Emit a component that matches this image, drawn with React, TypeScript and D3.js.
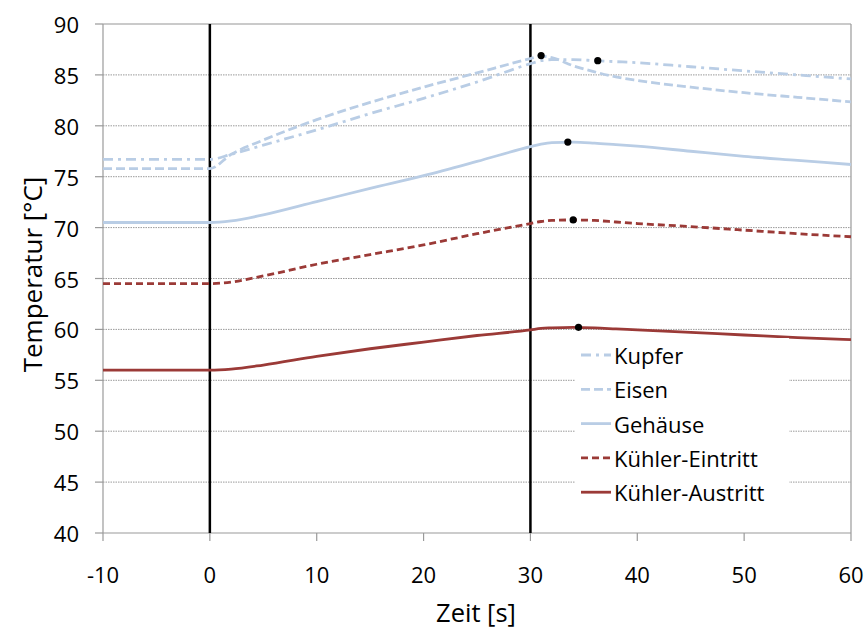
import React from "react";
import * as d3 from "d3";

const times = [-10, 0, 2, 5, 10, 15, 20, 25, 30, 31, 32, 34, 36, 38, 40, 45, 50, 55, 60];
const kupfer = [76.7, 76.7, 77.2, 78.1, 79.6, 81.2, 82.7, 84.3, 86.1, 86.4, 86.5, 86.5, 86.4, 86.3, 86.2, 85.8, 85.4, 85.0, 84.6];
const eisen = [75.8, 75.8, 77.2, 78.6, 80.6, 82.3, 83.8, 85.2, 86.6, 86.85, 86.7, 85.9, 85.3, 84.8, 84.45, 83.8, 83.25, 82.8, 82.35];
const gehaeuse = [70.5, 70.5, 70.65, 71.25, 72.55, 73.85, 75.1, 76.5, 77.95, 78.2, 78.35, 78.4, 78.3, 78.15, 78.0, 77.5, 77.0, 76.6, 76.2];
const kuehlerEin = [64.5, 64.5, 64.65, 65.25, 66.4, 67.35, 68.3, 69.4, 70.4, 70.6, 70.7, 70.75, 70.7, 70.55, 70.4, 70.1, 69.75, 69.4, 69.1];
const kuehlerAus = [56, 56, 56.1, 56.5, 57.35, 58.1, 58.75, 59.4, 59.95, 60.1, 60.15, 60.2, 60.15, 60.05, 59.95, 59.7, 59.45, 59.2, 59.0];

const seriesNames = ["Kupfer", "Eisen", "Gehäuse", "Kühler-Eintritt", "Kühler-Austritt"];
const seriesValues = [kupfer, eisen, gehaeuse, kuehlerEin, kuehlerAus];
const seriesColors = ["#b9cde5", "#b9cde5", "#b9cde5", "#9b3a37", "#9b3a37"];
const seriesDash = ["10,5,3,5", "9,4", "none", "7,4", "none"];

const markerTimes = [36.3, 31.0, 33.5, 34.0, 34.5];
const markerValues = [86.4, 86.9, 78.4, 70.75, 60.2];

const xTicks = [-10, 0, 10, 20, 30, 40, 50, 60];
const yTicks = [40, 45, 50, 55, 60, 65, 70, 75, 80, 85, 90];
const eventTimes = [0, 30];

const W = 866, H = 630;
const left = 103, right = 851, top = 24, bottom = 533;
const FONT = "'Open Sans', 'Noto Sans', sans-serif";

export default function App() {
  const x = d3.scaleLinear().domain([-10, 60]).range([left, right]);
  const y = d3.scaleLinear().domain([40, 90]).range([bottom, top]);
  const line = d3
    .line<number>()
    .x((_, i) => x(times[i]))
    .y((d) => y(d))
    .curve(d3.curveMonotoneX);

  const legendX = 581;
  const legendY0 = 355;
  const legendStep = 34.3;

  return (
    <svg
      width={W}
      height={H}
      style={{ position: "fixed", left: 0, top: 0, background: "#fff" }}
      fontFamily={FONT}
    >
      <rect x={0} y={0} width={W} height={H} fill="#fff" />
      {yTicks.slice(1, -1).map((t) => (
        <line
          key={"g" + t}
          x1={left}
          x2={right}
          y1={y(t)}
          y2={y(t)}
          stroke="#9a9a9a"
          strokeWidth={1}
          strokeDasharray="1.5,1"
        />
      ))}
      <line x1={left} x2={right} y1={top} y2={top} stroke="#b8b8b8" strokeWidth={1.5} />
      <line x1={right} x2={right} y1={top} y2={bottom} stroke="#9a9a9a" strokeWidth={1.2} />
      <line x1={left} x2={left} y1={top} y2={bottom} stroke="#9a9a9a" strokeWidth={1.2} />
      <line x1={left} x2={right} y1={bottom} y2={bottom} stroke="#9a9a9a" strokeWidth={1.2} />
      {yTicks.map((t) => (
        <g key={"y" + t}>
          <line x1={left - 8} x2={left} y1={y(t)} y2={y(t)} stroke="#9a9a9a" strokeWidth={1.2} />
          <text
            x={79}
            y={y(t)}
            textAnchor="end"
            dominantBaseline="central"
            fontSize={22}
            fill="#000"
          >
            {t}
          </text>
        </g>
      ))}
      {xTicks.map((t) => (
        <g key={"x" + t}>
          <line x1={x(t)} x2={x(t)} y1={bottom} y2={bottom + 8} stroke="#9a9a9a" strokeWidth={1.2} />
          <text x={x(t)} y={583} textAnchor="middle" fontSize={22} fill="#000">
            {t}
          </text>
        </g>
      ))}
      {eventTimes.map((t) => (
        <line key={"e" + t} x1={x(t)} x2={x(t)} y1={top} y2={bottom} stroke="#000" strokeWidth={2.5} />
      ))}
      {seriesValues.map((vals, i) => (
        <path
          key={"s" + i}
          d={line(vals) || ""}
          fill="none"
          stroke={seriesColors[i]}
          strokeWidth={2.8}
          strokeDasharray={seriesDash[i]}
        />
      ))}
      {markerTimes.map((t, i) => (
        <circle key={"m" + i} cx={x(t)} cy={y(markerValues[i])} r={3.6} fill="#000" />
      ))}
      <rect x={575} y={338} width={214} height={188} fill="#fff" />
      {seriesNames.map((n, i) => (
        <g key={"l" + i}>
          <line
            x1={legendX}
            x2={legendX + 30}
            y1={legendY0 + i * legendStep}
            y2={legendY0 + i * legendStep}
            stroke={seriesColors[i]}
            strokeWidth={2.8}
            strokeDasharray={seriesDash[i]}
          />
          <text
            x={614}
            y={legendY0 + i * legendStep}
            dominantBaseline="central"
            fontSize={22}
            fill="#000"
          >
            {n}
          </text>
        </g>
      ))}
      <text x={476} y={622} textAnchor="middle" fontSize={25.5} fill="#000">
        Zeit [s]
      </text>
      <text
        transform={`translate(42, ${(top + bottom) / 2 - 4}) rotate(-90)`}
        textAnchor="middle"
        fontSize={26}
        fill="#000"
      >
        Temperatur [°C]
      </text>
    </svg>
  );
}
